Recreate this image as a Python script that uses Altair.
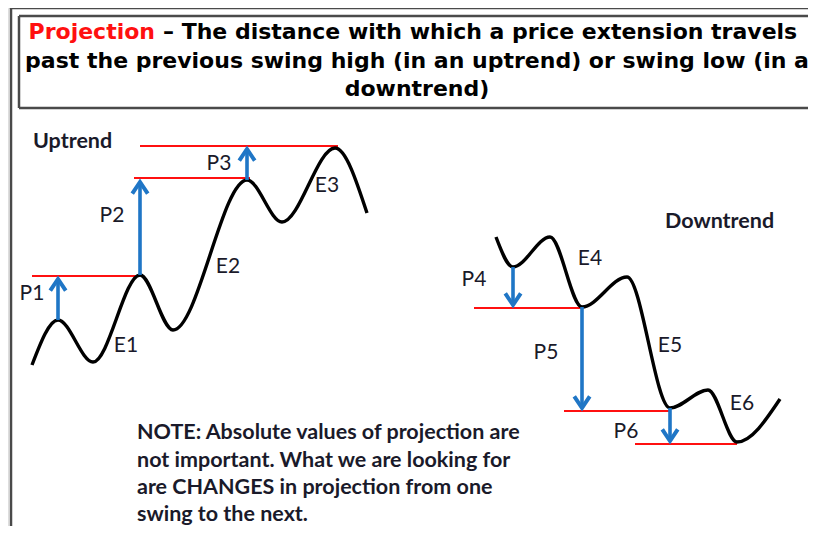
import altair as alt
import pandas as pd

# ---- data (image pixel coordinates, y grows downward) ----
up_x = [32, 58, 93, 140, 173, 247, 282, 335, 367]
up_y = [365, 320, 362, 275, 330, 180, 222, 148, 213]
down_x = [496, 513, 550, 582, 627, 670, 708, 737, 780]
down_y = [237, 267, 237, 307, 277, 408, 390, 442, 399]

level_y = [276, 178, 146, 308, 411, 444]
level_x1 = [32, 134, 140, 474, 564, 635]
level_x2 = [140, 250, 338, 582, 670, 737]

arrow_x = [58, 140, 247, 513, 582, 670]
arrow_from = [320, 275, 180, 267, 307, 408]
arrow_to = [279, 182, 149, 305, 408, 441]
arrow_dir = ["up", "up", "up", "down", "down", "down"]

label_text = ["P1", "E1", "P2", "E2", "P3", "E3", "P4", "E4", "P5", "E5", "P6", "E6"]
label_x = [32, 126, 112, 228, 219, 327, 474, 590, 546, 670, 626, 742]
label_y = [294, 346, 216, 267, 164, 186, 280, 259, 353, 346, 432, 404]

trend_text = ["Uptrend", "Downtrend"]
trend_x = [33, 665]
trend_y = [142, 222]

title_lines = [
    "past the previous swing high (in an uptrend) or swing low (in a",
    "downtrend)",
]
title_red = "Projection"
title_rest = "– The distance with which a price extension travels"

note_lines = [
    "NOTE: Absolute values of projection are",
    "not important. What we are looking for",
    "are CHANGES in projection from one",
    "swing to the next.",
]
note_y = [433, 461, 488, 515]

# frame lines (outer frame and title box)
frame_x1 = [11, 11, 19, 19, 19]
frame_x2 = [808, 11, 808, 19, 808]
frame_y1 = [8, 8, 16, 16, 108]
frame_y2 = [8, 526, 16, 108, 108]

W, H = 800, 518
xs = alt.Scale(domain=[8, 8 + W], range=[0, W])
ys = alt.Scale(domain=[8, 8 + H], range=[0, H])

BLUE = "#1f76c6"
RED = "#ff1010"
LFONT = "Lato"
TFONT = "DejaVu Sans"


def X(f="x"):
    return alt.X(f + ":Q", scale=xs, axis=None)


def Y(f="y"):
    return alt.Y(f + ":Q", scale=ys, axis=None)


frame_df = pd.DataFrame({"x": frame_x1, "x2": frame_x2, "y": frame_y1, "y2": frame_y2})
frame = alt.Chart(frame_df).mark_rule(color="#4a4a4a", strokeWidth=2.5).encode(
    x=X(), x2="x2:Q", y=Y(), y2="y2:Q")

curve_up = alt.Chart(pd.DataFrame({"x": up_x, "y": up_y, "o": range(len(up_x))})).mark_line(
    color="black", strokeWidth=3.4, interpolate="monotone").encode(x=X(), y=Y(), order="o:Q")
curve_down = alt.Chart(pd.DataFrame({"x": down_x, "y": down_y, "o": range(len(down_x))})).mark_line(
    color="black", strokeWidth=3.4, interpolate="monotone").encode(x=X(), y=Y(), order="o:Q")

levels = alt.Chart(pd.DataFrame({"y": level_y, "x": level_x1, "x2": level_x2})).mark_rule(
    color=RED, strokeWidth=2).encode(x=X(), x2="x2:Q", y=Y())

arr_df = pd.DataFrame({"x": arrow_x, "y": arrow_from, "y2": arrow_to, "d": arrow_dir})
shafts = alt.Chart(arr_df).mark_rule(color=BLUE, strokeWidth=3.6).encode(x=X(), y=Y(), y2="y2:Q")
heads_up = alt.Chart(arr_df[arr_df.d == "up"]).mark_point(
    shape="M-1,1.5L0,0L1,1.5", size=240, filled=False, color=BLUE, strokeWidth=4, opacity=1).encode(
    x=X(), y=Y("y2"))
heads_down = alt.Chart(arr_df[arr_df.d == "down"]).mark_point(
    shape="M-1,-1.5L0,0L1,-1.5", size=240, filled=False, color=BLUE, strokeWidth=4, opacity=1).encode(
    x=X(), y=Y("y2"))

labels = alt.Chart(pd.DataFrame({"t": label_text, "x": label_x, "y": label_y})).mark_text(
    font=LFONT, fontSize=21, align="center", baseline="middle", color="#1a1a2a").encode(
    x=X(), y=Y(), text="t:N")

trends = alt.Chart(pd.DataFrame({"t": trend_text, "x": trend_x, "y": trend_y})).mark_text(
    font=LFONT, fontSize=21.5, fontWeight="bold", align="left", baseline="middle", color="#1a1a2a").encode(
    x=X(), y=Y(), text="t:N")

note = alt.Chart(pd.DataFrame({"t": note_lines, "x": [137] * 4, "y": note_y})).mark_text(
    font=LFONT, fontSize=21.5, fontWeight="bold", align="left", baseline="middle", color="#1a1a2a").encode(
    x=X(), y=Y(), text="t:N")

t_red = alt.Chart(pd.DataFrame({"t": [title_red], "x": [155], "y": [32]})).mark_text(
    font=TFONT, fontSize=22, fontWeight="bold", align="right", baseline="middle", color=RED).encode(
    x=X(), y=Y(), text="t:N")
t_rest = alt.Chart(pd.DataFrame({"t": [title_rest], "x": [163], "y": [32]})).mark_text(
    font=TFONT, fontSize=22, fontWeight="bold", align="left", baseline="middle", color="black").encode(
    x=X(), y=Y(), text="t:N")
t_lines = alt.Chart(pd.DataFrame({"t": title_lines, "x": [417, 417], "y": [61, 89]})).mark_text(
    font=TFONT, fontSize=22, fontWeight="bold", align="center", baseline="middle", color="black").encode(
    x=X(), y=Y(), text="t:N")

chart = alt.layer(
    frame, levels, curve_up, curve_down, shafts, heads_up, heads_down,
    labels, trends, note, t_red, t_rest, t_lines,
).properties(width=W, height=H, padding=0, autosize=alt.AutoSizeParams(type="none")).configure_view(
    stroke=None).configure(background="white")

chart.save("out.html", embed_options={"renderer": "svg", "actions": False})
